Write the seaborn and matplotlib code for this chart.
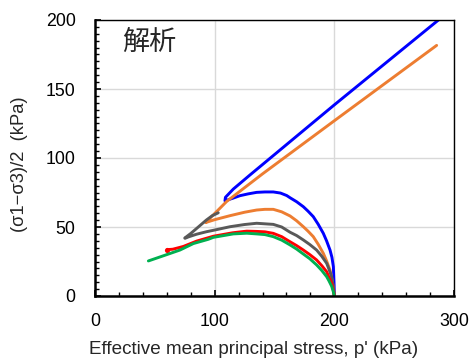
import numpy as np
import pandas as pd
import matplotlib
matplotlib.use("Agg")
import matplotlib.pyplot as plt
from matplotlib.ticker import MultipleLocator
import seaborn as sns

# Effective stress paths: p' (kPa) and (σ1−σ3)/2 (kPa)
p_blue = [200, 199.8, 199.2, 198, 196.4, 193.5, 190.8, 186.5, 182.4, 178, 174.1, 168.5,
          163, 160.2, 155, 149, 142, 135.1, 128, 121.2, 115, 110.5, 108.6, 109, 115.6,
          129.5, 200, 287]
q_blue = [0, 8, 21.2, 28, 33.3, 40, 45.4, 52, 57.5, 61.5, 64.7, 68.3,
          71.2, 72.8, 74.6, 75.4, 75.4, 75.1, 74, 72.7, 70.8, 69.5, 69, 71.5, 77.5,
          87.7, 138.5, 200]

p_orange = [200, 199.7, 198.5, 196.4, 193.5, 190.8, 186.5, 182.4, 178, 174.1, 168.5, 163,
            156, 149, 142, 135.1, 125, 112.8, 100, 94.5, 92.5, 110, 140, 200, 285.5]
q_orange = [0, 2, 10, 18.8, 25.5, 30.9, 37.5, 43, 47, 50.2, 54.5, 58,
            61, 62.8, 62.8, 62.3, 60.7, 58.2, 55.3, 53.8, 53.2, 68.5, 88.5, 127, 181.6]

p_gray = [200, 199.5, 197.8, 195.5, 193.6, 189.5, 185.2, 179.5, 174.1, 168.5, 163, 156,
          149, 142, 135.1, 125, 112.8, 100, 93.3, 85, 78, 75.2, 75, 80, 87, 93, 98, 103]
q_gray = [0, 4, 14, 19.5, 23.7, 28.8, 33.3, 37.3, 40.6, 43.8, 46.2, 50,
          51.9, 52.3, 52.7, 51.8, 50.2, 47.8, 46.6, 44.8, 42.8, 41.8, 42, 45.3, 50.5, 55, 58.2, 60.3]

p_red = [200, 199.5, 197.8, 195.5, 193.6, 189.5, 185.2, 179.5, 174.1, 168.5, 163, 156,
         149, 142, 135.1, 126.8, 115, 98.9, 85, 73.8, 65, 60.4]
q_red = [0, 3, 9.2, 13.5, 17.6, 22, 26.1, 30, 33.3, 36.5, 39.3, 43,
         45.4, 46.5, 46.8, 47, 45.8, 43.3, 39.8, 35.9, 33.9, 33.6]

p_green = [200, 199.2, 197.8, 195.5, 193.6, 189.5, 185.2, 179.5, 174.1, 168.5, 163, 156,
           149, 142, 135.1, 126.8, 115.6, 98.9, 94.7, 82.2, 71, 60, 44.6]
q_green = [0, 3, 7, 11, 14, 18.5, 22.5, 27, 30.4, 34, 37, 40.5,
           43, 44.5, 45, 45.5, 45, 42.5, 41.1, 38, 33.3, 30, 25.4]

cases = ["blue", "orange", "gray", "red", "green"]
colors = {"blue": "#0000FF", "orange": "#ED7D31", "gray": "#595959",
          "red": "#FF0000", "green": "#00B050"}
paths = {"blue": (p_blue, q_blue), "orange": (p_orange, q_orange),
         "gray": (p_gray, q_gray), "red": (p_red, q_red), "green": (p_green, q_green)}

df = pd.concat(
    [pd.DataFrame({"p": paths[c][0], "q": paths[c][1], "case": c}) for c in cases],
    ignore_index=True,
)

sns.set_style("ticks")
plt.rcParams["font.family"] = ["Liberation Sans", "DejaVu Sans"]

fig = plt.figure(figsize=(4.71, 3.63), dpi=100)
ax = fig.add_axes([95 / 471, 67 / 363, 359 / 471, 276 / 363])

sns.lineplot(data=df, x="p", y="q", hue="case", hue_order=cases, palette=colors,
             sort=False, estimator=None, legend=False, linewidth=2.1, ax=ax,
             solid_capstyle="round")
# small blob where the red path ends
sns.scatterplot(x=[p_red[-1]], y=[q_red[-1]], color="#FF0000", s=14, linewidth=0,
                ax=ax, legend=False, zorder=1.5)

ax.set_xlim(0, 300)
ax.set_ylim(0, 200)
ax.xaxis.set_major_locator(MultipleLocator(100))
ax.xaxis.set_minor_locator(MultipleLocator(20))
ax.yaxis.set_major_locator(MultipleLocator(50))
ax.yaxis.set_minor_locator(MultipleLocator(5))

ax.grid(True, which="major", color="#D9D9D9", linewidth=1.0)
ax.set_axisbelow(True)

ax.tick_params(which="both", direction="in", colors="black", labelsize=12.8,
               top=False, right=False)
ax.tick_params(which="major", length=4, width=1.2)
ax.tick_params(which="minor", length=3, width=1.0)
ax.tick_params(axis="y", which="major", pad=14)
ax.tick_params(axis="x", which="major", pad=12)

for side in ["left", "bottom"]:
    ax.spines[side].set_linewidth(1.8)
    ax.spines[side].set_color("black")
for side in ["top", "right"]:
    ax.spines[side].set_visible(True)
    ax.spines[side].set_linewidth(1.0)
    ax.spines[side].set_color("black")

ax.set_xlabel("Effective mean principal stress, p' (kPa)", fontsize=13.6)
ax.xaxis.set_label_coords((253.5 - 95) / 359, -(350 - 296) / 276, transform=ax.transAxes)
ax.xaxis.label.set_va("center")
ax.set_ylabel("(σ1−σ3)/2  (kPa)", fontsize=13.2)
ax.yaxis.set_label_coords(-(95 - 20) / 359, (296 - 164) / 276, transform=ax.transAxes)
ax.yaxis.label.set_va("center")

ax.text(23.0, 183.5, "解析", fontsize=19.5, va="center", ha="left",
        family=["Noto Sans CJK JP", "DejaVu Sans"])

fig.savefig("out.png", dpi=100)
